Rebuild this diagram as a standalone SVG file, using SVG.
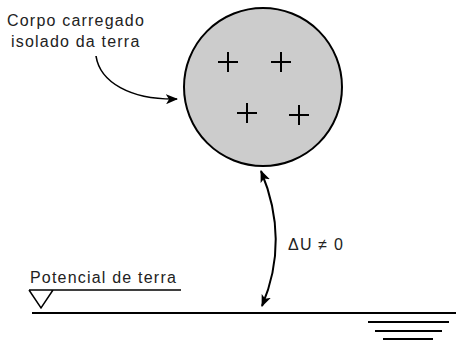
<svg xmlns="http://www.w3.org/2000/svg" width="456" height="341" viewBox="0 0 456 341">
<style>
text{font-family:"Liberation Sans",Arial,sans-serif;font-size:16px;fill:#222;letter-spacing:1.2px}
.ln{stroke:#000;fill:none}
.plus{stroke:#000;stroke-width:2}
</style>
<defs>
<marker id="ah" viewBox="0 0 12 10" refX="11" refY="5" markerWidth="12" markerHeight="10" markerUnits="userSpaceOnUse" orient="auto-start-reverse">
<path d="M0,0 L12,5 L0,10 L3,5 z" fill="#000"/>
</marker>
</defs>
<rect width="456" height="341" fill="#fff"/>
<g id="body">
<circle cx="263" cy="87" r="79" fill="#cccccc" stroke="#000" stroke-width="2"/>
<path class="plus" d="M218,62h20M228,52v20M271,62h20M281,52v20M237,113h20M247,103v20M289,115h20M299,105v20"/>
</g>
<g id="label-body">
<text x="7" y="26">Corpo carregado</text>
<text x="11" y="47">isolado da terra</text>
</g>
<g id="label-du">
<text x="288" y="250">ΔU ≠ 0</text>
</g>
<g id="earth-ref">
<text x="30" y="283">Potencial de terra</text>
<path class="ln" stroke-width="1.5" d="M29,290H181M29,290L41,308L53,290"/>
</g>
<g id="ground">
<path class="ln" stroke-width="2" d="M32,313H456"/>
<path class="ln" stroke-width="2" d="M368,322H449M375,331H442M383,339H433"/>
</g>
<g id="connectors">
<path class="ln" stroke-width="1.6" d="M96,56 C100,82 130,100 177,99" marker-end="url(#ah)"/>
<path class="ln" stroke-width="2" d="M261,171 Q290,240 262,306" marker-start="url(#ah)" marker-end="url(#ah)"/>
</g>
</svg>
